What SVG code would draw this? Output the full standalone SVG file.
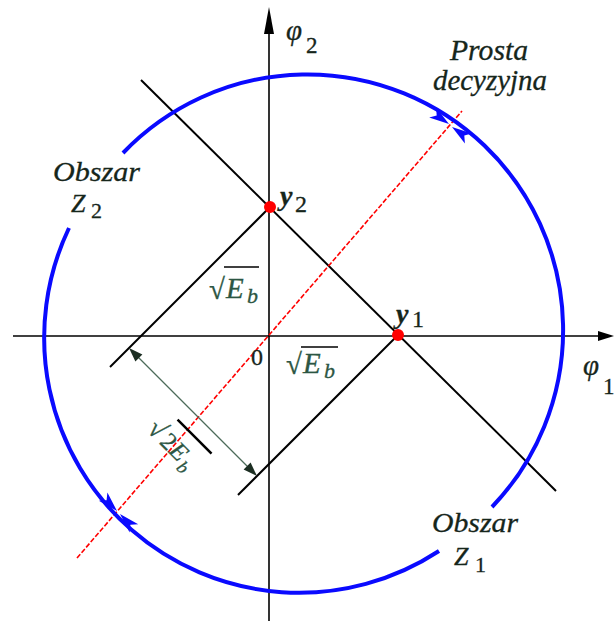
<svg xmlns="http://www.w3.org/2000/svg" width="614" height="621" viewBox="0 0 614 621">
<style>
.ax{stroke:#000;stroke-width:1.6;fill:none}
.bd{stroke:#000;stroke-width:2;fill:none}
.arc{stroke:#0a0aff;stroke-width:4;fill:none}
.ah{fill:#0a0aff}
.dec{stroke:#ff0000;stroke-width:1.6;fill:none;stroke-dasharray:5 2}
.dim{stroke:#4d6b5a;stroke-width:1.3;fill:none}
.t{font-family:"Liberation Serif","Times New Roman",serif;font-style:italic;fill:#16261b;stroke:#16261b;stroke-width:0.3}
.s{font-family:"Liberation Serif","Times New Roman",serif;font-style:normal;fill:#16261b;stroke:#16261b;stroke-width:0.3}
.g{font-family:"Liberation Serif","Times New Roman",serif;fill:#2c5643;stroke:#2c5643;stroke-width:0.3}
</style>
<rect width="614" height="621" fill="#fff"/>
<g id="connectors">
<g id="axes">
<line class="ax" x1="269" y1="621" x2="269" y2="24"/>
<polygon points="269,7 264,34 274,34" fill="#000"/>
<line class="ax" x1="13" y1="336" x2="600" y2="336"/>
<polygon points="614,336 598,331 598,341" fill="#000"/>
</g>
<g id="boundaries">
<line class="bd" x1="141" y1="80" x2="556" y2="491"/>
<line class="bd" x1="270" y1="207" x2="110" y2="367"/>
<line class="bd" x1="398" y1="335" x2="238" y2="495"/>
</g>
<g id="decision-line">
<line class="dec" x1="77" y1="558" x2="462" y2="111"/>
</g>
<g id="regions">
<path class="arc" d="M123,153 A255,255 0 0 1 492,507"/>
<path class="arc" d="M439,551 A255,255 0 0 1 69,228"/>
<polygon class="ah" points="449,124 429.2,117.4 436.7,115.4 436.1,107.6"/>
<polygon class="ah" points="452,127 471.8,133.6 464.3,135.6 464.9,143.4"/>
<polygon class="ah" points="117,511 98.8,500.8 106.6,500.2 107.4,492.4"/>
<polygon class="ah" points="120,514 138.2,524.2 130.4,524.8 129.6,532.6"/>
</g>
<g id="dimension">
<line class="dim" x1="133" y1="352" x2="253" y2="472"/>
<polygon points="129,348 142.4,354.4 135.4,361.4" fill="#1c2e22"/>
<polygon points="257,476 250.6,462.6 243.6,469.6" fill="#1c2e22"/>
</g>
</g>
<g id="node-y2">
<circle cx="270" cy="207" r="6" fill="#ff0000"/>
<text class="t" x="280" y="205" font-size="28" font-weight="bold">y</text>
<text class="s" x="295" y="212" font-size="24">2</text>
</g>
<g id="node-y1">
<circle cx="398" cy="335" r="6" fill="#ff0000"/>
<text class="t" x="396" y="323" font-size="28" font-weight="bold">y</text>
<text class="s" x="412" y="327" font-size="24">1</text>
</g>
<g id="origin">
<text class="s" x="251" y="365" font-size="24">0</text>
</g>
<g id="label-phi2">
<text class="t" x="286" y="40" font-size="29">φ</text>
<text class="s" x="306" y="53" font-size="23">2</text>
</g>
<g id="label-phi1">
<text class="t" x="583" y="375" font-size="29">φ</text>
<text class="s" x="603" y="394" font-size="23">1</text>
</g>
<g id="label-prosta">
<text class="t" x="450" y="60" font-size="29" textLength="78" lengthAdjust="spacingAndGlyphs">Prosta</text>
<text class="t" x="433" y="90" font-size="29" textLength="114" lengthAdjust="spacingAndGlyphs">decyzyjna</text>
</g>
<g id="label-z2">
<text class="t" x="53" y="181" font-size="28" textLength="87" lengthAdjust="spacingAndGlyphs">Obszar</text>
<text class="t" x="71" y="212" font-size="26">Z</text>
<text class="s" x="91" y="218" font-size="22">2</text>
</g>
<g id="label-z1">
<text class="t" x="432" y="532" font-size="28" textLength="86" lengthAdjust="spacingAndGlyphs">Obszar</text>
<text class="t" x="454" y="565" font-size="26">Z</text>
<text class="s" x="475" y="572" font-size="22">1</text>
</g>
<g id="label-sqrtEb-upper">
<text class="g" x="209" y="299" font-size="29">√</text>
<line x1="224" y1="267" x2="259" y2="267" stroke="#000" stroke-width="1.5"/>
<text class="g" x="226" y="298" font-size="29" font-style="italic">E</text>
<text class="g" x="247" y="303" font-size="22" font-style="italic">b</text>
</g>
<g id="label-sqrtEb-lower">
<text class="g" x="286" y="374" font-size="29">√</text>
<line x1="301" y1="347" x2="338" y2="347" stroke="#000" stroke-width="1.5"/>
<text class="g" x="303" y="373" font-size="29" font-style="italic">E</text>
<text class="g" x="324" y="378" font-size="22" font-style="italic">b</text>
</g>
<g id="label-sqrt2Eb" transform="translate(179,421) rotate(45)">
<text class="g" x="-17" y="30" font-size="27">√</text>
<line x1="-2" y1="0" x2="46" y2="0" stroke="#000" stroke-width="2.5"/>
<text class="g" x="1" y="30" font-size="25">2</text>
<text class="g" x="14" y="30" font-size="25" font-style="italic">E</text>
<text class="g" x="31" y="36" font-size="18" font-style="italic">b</text>
</g>
</svg>
